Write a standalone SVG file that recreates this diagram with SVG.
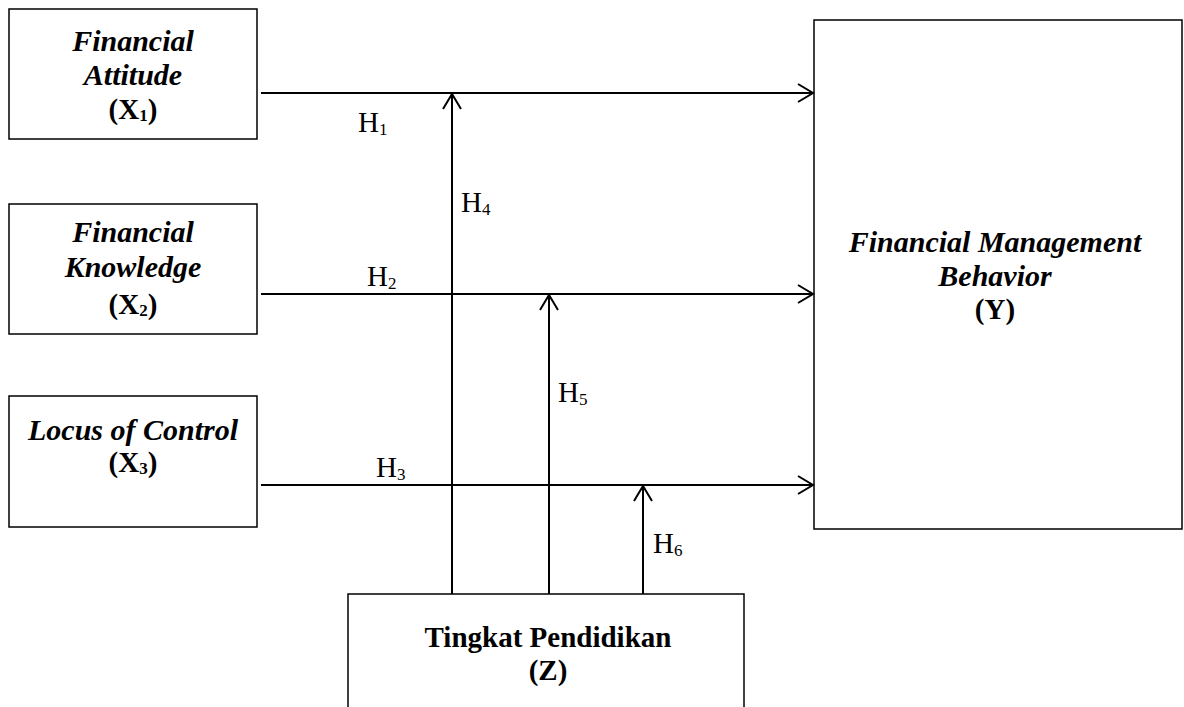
<svg xmlns="http://www.w3.org/2000/svg" width="1184" height="707" viewBox="0 0 1184 707">
<style>
.box{fill:#fff;stroke:#000;stroke-width:1.5}
.t{font-family:"Liberation Serif","Times New Roman",serif;font-size:29px;font-weight:bold;text-anchor:middle;fill:#000}
.i{font-style:italic;font-size:30px}
.h{font-family:"Liberation Serif","Times New Roman",serif;font-size:29px;fill:#000}
.sub{font-size:17px}
.c{stroke:#000;stroke-width:2;fill:none}
</style>
<defs>
<marker id="ah" markerUnits="userSpaceOnUse" markerWidth="24" markerHeight="24" refX="18" refY="12" orient="auto">
<path d="M3,3 L18,12 L3,21" fill="none" stroke="#000" stroke-width="2"/>
</marker>
</defs>
<rect width="1184" height="707" fill="#fff"/>
<g id="x1">
<rect class="box" x="9" y="9" width="248" height="130"/>
<text class="t i" x="133" y="51">Financial</text>
<text class="t i" x="133" y="85">Attitude</text>
<text class="t" x="133" y="119">(X<tspan class="sub" dy="2">1</tspan><tspan dy="-2">)</tspan></text>
</g>
<g id="x2">
<rect class="box" x="9" y="204" width="248" height="130"/>
<text class="t i" x="133" y="242">Financial</text>
<text class="t i" x="133" y="277">Knowledge</text>
<text class="t" x="133" y="314">(X<tspan class="sub" dy="2">2</tspan><tspan dy="-2">)</tspan></text>
</g>
<g id="x3">
<rect class="box" x="9" y="396" width="248" height="131"/>
<text class="t i" x="133" y="440">Locus of Control</text>
<text class="t" x="133" y="472">(X<tspan class="sub" dy="2">3</tspan><tspan dy="-2">)</tspan></text>
</g>
<g id="y">
<rect class="box" x="814" y="20" width="368" height="509"/>
<text class="t i" x="995" y="252">Financial Management</text>
<text class="t i" x="995" y="286">Behavior</text>
<text class="t" x="995" y="319">(Y)</text>
</g>
<g id="z">
<rect class="box" x="348" y="594" width="396" height="130"/>
<text class="t" x="548" y="647">Tingkat Pendidikan</text>
<text class="t" x="548" y="680">(Z)</text>
</g>
<g id="connectors">
<line class="c" x1="261" y1="93" x2="813" y2="93" marker-end="url(#ah)"/>
<line class="c" x1="261" y1="294" x2="813" y2="294" marker-end="url(#ah)"/>
<line class="c" x1="261" y1="485" x2="813" y2="485" marker-end="url(#ah)"/>
<line class="c" x1="452" y1="594" x2="452" y2="94" marker-end="url(#ah)"/>
<line class="c" x1="549" y1="594" x2="549" y2="295" marker-end="url(#ah)"/>
<line class="c" x1="643" y1="594" x2="643" y2="486" marker-end="url(#ah)"/>
</g>
<g id="labels">
<text class="h" x="358" y="132">H<tspan class="sub" dy="3">1</tspan></text>
<text class="h" x="461" y="212">H<tspan class="sub" dy="3">4</tspan></text>
<text class="h" x="367" y="286">H<tspan class="sub" dy="3">2</tspan></text>
<text class="h" x="558" y="402">H<tspan class="sub" dy="3">5</tspan></text>
<text class="h" x="376" y="477">H<tspan class="sub" dy="3">3</tspan></text>
<text class="h" x="653" y="553">H<tspan class="sub" dy="3">6</tspan></text>
</g>
</svg>
